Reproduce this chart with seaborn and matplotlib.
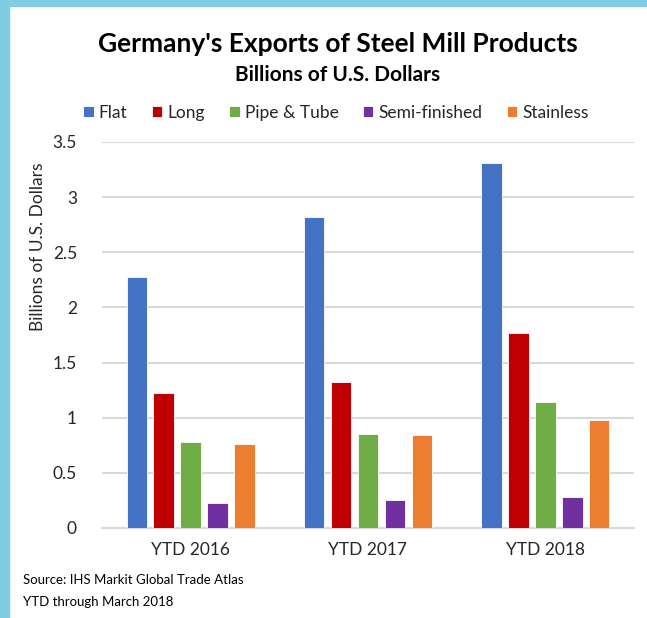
import pandas as pd
import seaborn as sns
import matplotlib
matplotlib.use('Agg')
import matplotlib.pyplot as plt
from matplotlib.patches import Rectangle

# Data (billions of US dollars)
periods = ['YTD 2016', 'YTD 2017', 'YTD 2018']
products = ['Flat', 'Long', 'Pipe & Tube', 'Semi-finished', 'Stainless']
flat = [2.28, 2.82, 3.31]
long_ = [1.22, 1.32, 1.765]
pipe_tube = [0.78, 0.855, 1.145]
semi_finished = [0.23, 0.25, 0.278]
stainless = [0.76, 0.846, 0.976]
colors = ['#4472C4', '#C00000', '#70AD47', '#7030A0', '#ED7D31']

series = [flat, long_, pipe_tube, semi_finished, stainless]
rows = []
for prod, vals in zip(products, series):
    for per, v in zip(periods, vals):
        rows.append({'period': per, 'product': prod, 'value': v})
df = pd.DataFrame(rows)

sns.set_style('white')
plt.rcParams['font.family'] = ['Lato', 'DejaVu Sans']

fig = plt.figure(figsize=(6.47, 6.18), dpi=100)
W, H = 647, 618
ax = fig.add_axes([102 / W, 1 - 528 / H, (634 - 102) / W, (528 - 142) / H])

sns.barplot(data=df, x='period', y='value', hue='product', hue_order=products,
            palette=colors, saturation=1, width=0.76, gap=0.24, edgecolor='white',
            linewidth=0.6, errorbar=None, ax=ax, legend=True, zorder=3)

ax.set_ylim(0, 3.5)
ax.set_yticks([0, 0.5, 1, 1.5, 2, 2.5, 3, 3.5])
ax.set_yticklabels(['0', '0.5', '1', '1.5', '2', '2.5', '3', '3.5'])
ax.grid(axis='y', color='#D9D9D9', linewidth=1.5, zorder=0)
ax.set_axisbelow(True)
for s in ['top', 'right', 'left']:
    ax.spines[s].set_visible(False)
ax.spines['bottom'].set_color('#D9D9D9')
ax.spines['bottom'].set_linewidth(1.5)
ax.tick_params(axis='both', length=0, labelsize=12.5, colors='#262626')
ax.tick_params(axis='y', pad=18)
ax.tick_params(axis='x', pad=10)
ax.set_xlabel('')
ax.set_ylabel('Billions of U.S. Dollars', fontsize=12.5, color='#262626')
ax.yaxis.set_label_coords(-0.105, 0.728)

handles, labels = ax.get_legend_handles_labels()
ax.get_legend().remove()
fig.legend(handles, labels, loc='center', bbox_to_anchor=(336 / W, 1 - 113 / H),
           ncol=5, frameon=False, fontsize=12.5, handlelength=0.6, handleheight=0.6,
           handletextpad=0.3, columnspacing=1.4, labelcolor='#262626')

fig.text(338 / W, 1 - 44 / H, "Germany's Exports of Steel Mill Products",
         ha='center', va='center', fontsize=19, fontweight='bold', color='black')
fig.text(338 / W, 1 - 75 / H, 'Billions of U.S. Dollars',
         ha='center', va='center', fontsize=15, fontweight='bold', color='black')
fig.text(23 / W, 1 - 580 / H, 'Source: IHS Markit Global Trade Atlas',
         ha='left', va='center', fontsize=9.5, color='black')
fig.text(23 / W, 1 - 602 / H, 'YTD through March 2018',
         ha='left', va='center', fontsize=9.5, color='black')

# light blue frame on the left and top edges
border = '#7FCCE3'
fig.patches.append(Rectangle((0, 0), 9 / W, 1, transform=fig.transFigure,
                             color=border, zorder=10))
fig.patches.append(Rectangle((0, 1 - 6 / H), 1, 6 / H, transform=fig.transFigure,
                             color=border, zorder=10))

fig.savefig('out.png', dpi=100)
plt.close(fig)
